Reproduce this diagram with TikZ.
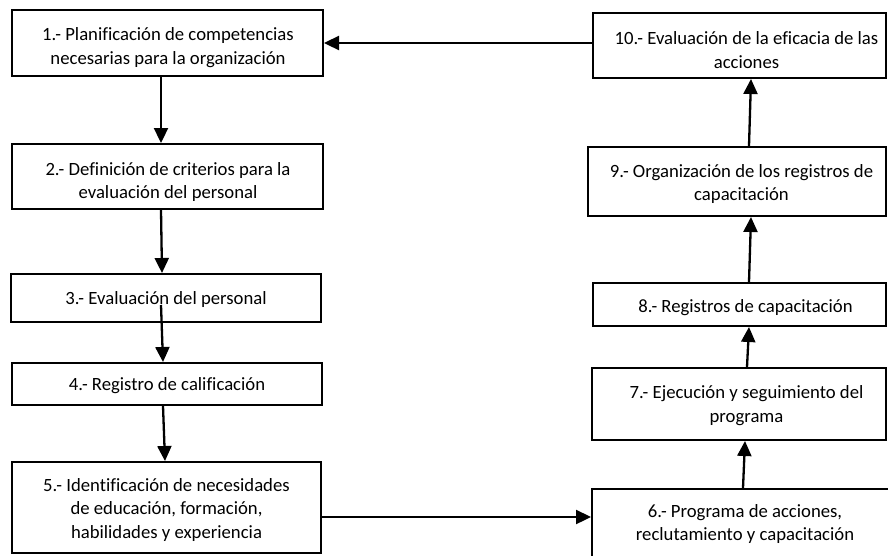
\documentclass[tikz,border=0pt]{standalone}
\usepackage{fontspec}
\setmainfont{Carlito}[Ligatures=NoCommon]
\usetikzlibrary{arrows.meta}
\tikzset{
  stepbox/.style={draw, line width=2pt, rectangle, inner sep=0pt},
  boxtext/.style={align=center, font=\fontsize{18.7}{23.5}\selectfont, inner sep=0pt},
  flow/.style={line width=2.3pt, -{Triangle[length=15pt,width=14pt]}},
}
\begin{document}
\begin{tikzpicture}[x=1pt,y=-1pt]
\useasboundingbox (0,0) rectangle (888,555);

% left column
\node[stepbox, minimum width=311pt, minimum height=66pt] (b1) at (167.5,43) {};
\node[stepbox, minimum width=311pt, minimum height=65pt] (b2) at (167.5,176.5) {};
\node[stepbox, minimum width=310pt, minimum height=48pt] (b3) at (166,298) {};
\node[stepbox, minimum width=310pt, minimum height=42pt] (b4) at (167,384) {};
\node[stepbox, minimum width=309pt, minimum height=91pt] (b5) at (166.5,507.5) {};

% right column
\node[stepbox, minimum width=306pt, minimum height=73pt] (b6) at (745,525.5) {};
\node[stepbox, minimum width=294pt, minimum height=72pt] (b7) at (739,404) {};
\node[stepbox, minimum width=293pt, minimum height=43pt] (b8) at (739.5,304.5) {};
\node[stepbox, minimum width=298pt, minimum height=69pt] (b9) at (737,181.5) {};
\node[stepbox, minimum width=293pt, minimum height=65pt] (b10) at (739.5,45.5) {};

% box texts (the first two are cut by their text frames)
\begin{scope}
  \clip (12,10) rectangle (323,69);
  \node[boxtext] (t1) at (168,47.5) {1.- Planificación de competencias\\necesarias para la organización};
\end{scope}
\begin{scope}
  \clip (12,144) rectangle (323,200);
  \node[boxtext] (t2) at (168,182) {2.- Definición de criterios para la\\evaluación del personal};
\end{scope}
\node[boxtext] (t3) at (166,299.5) {3.- Evaluación del personal};
\node[boxtext] (t4) at (167,386) {4.- Registro de calificación};
\node[boxtext] (t5) at (166.5,510) {5.- Identificación de necesidades\\de educación, formación,\\habilidades y experiencia};
\node[boxtext] (t6) at (745,524) {6.- Programa de acciones,\\reclutamiento y capacitación};
\node[boxtext] (t7) at (746.5,405.5) {7.- Ejecución y seguimiento del\\programa};
\node[boxtext] (t8) at (745.5,307.5) {8.- Registros de capacitación};
\node[boxtext] (t9) at (741.5,184) {9.- Organización de los registros de\\capacitación};
\node[boxtext] (t10) at (746.5,50) {10.- Evaluación de la eficacia de las\\acciones};

% connectors
\draw[flow] ([xshift=-6.5pt]b1.south) -- ([xshift=-6.5pt]b2.north);
\draw[flow] ([xshift=-6.5pt]b2.south) -- ([xshift=-4pt]b3.north);
\draw[flow] ([xshift=-5pt,yshift=-7pt]b3.center) -- ([xshift=-4pt]b4.north);
\draw[flow] ([xshift=-4pt]b4.south) -- ([xshift=-1.5pt]b5.north);
\draw[flow] ([yshift=-9.5pt]b5.east) -- ([yshift=-9.5pt]b5.east -| b6.west);
\draw[flow] ([xshift=-2pt]b6.north) -- ([xshift=6pt]b7.south);
\draw[flow] ([xshift=8pt]b7.north) -- ([xshift=9.5pt]b8.south);
\draw[flow] ([xshift=9.5pt]b8.north) -- ([xshift=14pt]b9.south);
\draw[flow] ([xshift=12pt]b9.north) -- ([xshift=11.5pt]b10.south);
\draw[flow] ([yshift=2.5pt]b10.west) -- ([yshift=2.5pt]b10.west -| b1.east);
\end{tikzpicture}
\end{document}
